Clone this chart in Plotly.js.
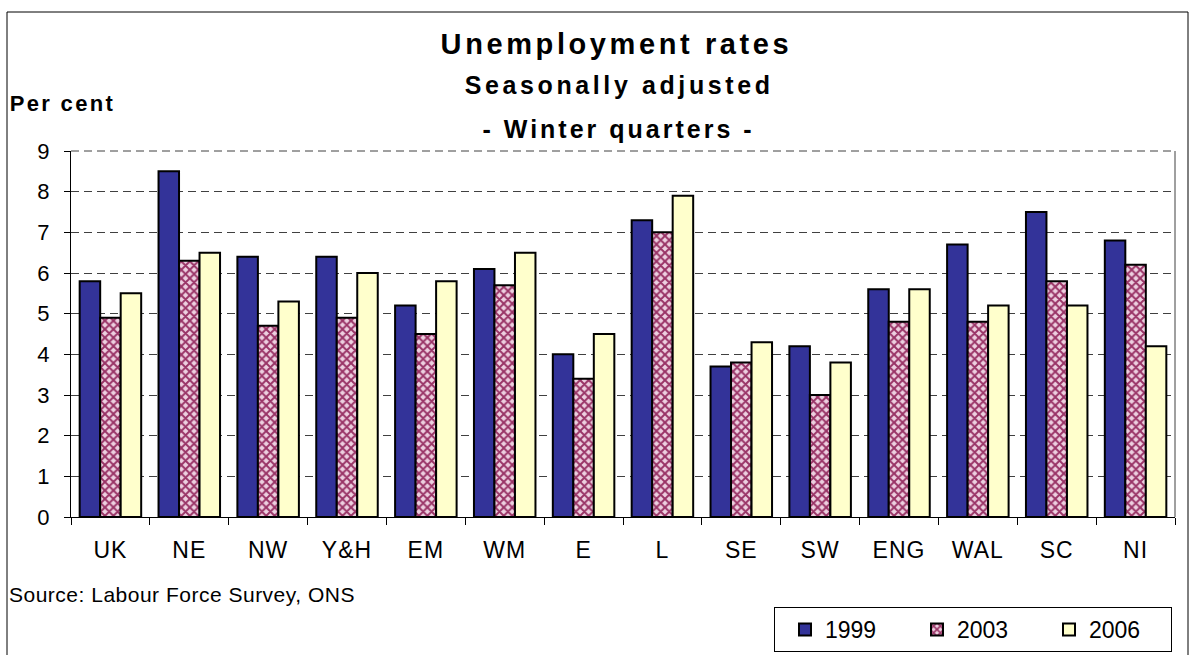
<!DOCTYPE html>
<html>
<head>
<meta charset="utf-8">
<script src="https://cdn.plot.ly/plotly-3.0.1.min.js"></script>
<style>
  html, body { margin: 0; padding: 0; background: #ffffff; }
  #chart { width: 1192px; height: 655px; }
</style>
</head>
<body>
<div id="chart"></div>
<script>
const regions = ["UK", "NE", "NW", "Y&H", "EM", "WM", "E", "L", "SE", "SW", "ENG", "WAL", "SC", "NI"];
const rate1999 = [5.8, 8.5, 6.4, 6.4, 5.2, 6.1, 4.0, 7.3, 3.7, 4.2, 5.6, 6.7, 7.5, 6.8];
const rate2003 = [4.9, 6.3, 4.7, 4.9, 4.5, 5.7, 3.4, 7.0, 3.8, 3.0, 4.8, 4.8, 5.8, 6.2];
const rate2006 = [5.5, 6.5, 5.3, 6.0, 5.8, 6.5, 4.5, 7.9, 4.3, 3.8, 5.6, 5.2, 5.2, 4.2];
const yTicks = [0, 1, 2, 3, 4, 5, 6, 7, 8, 9];

const font = "Liberation Sans, Arial, sans-serif";
const outline = { color: "#000000", width: 2 };

// plot area in pixels: left 71, right 1175, top 151, bottom 517
const L = 71, R = 1175, T = 151, B = 517;
const px = v => (v - L) / (R - L);
const py = v => (B - v) / (B - T);

const traces = [
  { type: "bar", name: "1999", x: regions, y: rate1999,
    marker: { color: "#333399", line: outline } },
  { type: "bar", name: "2003", x: regions, y: rate2003,
    marker: { color: "#C77FA6", line: outline,
      pattern: { shape: "x", fgcolor: "#993366", bgcolor: "#EDD0E0", size: 6, solidity: 0.55 } } },
  { type: "bar", name: "2006", x: regions, y: rate2006,
    marker: { color: "#FFFFCC", line: outline } }
];

const layout = {
  width: 1192, height: 655,
  margin: { l: L, r: 1192 - R, t: T, b: 655 - B, autoexpand: false },
  paper_bgcolor: "#ffffff", plot_bgcolor: "#ffffff",
  font: { family: font, color: "#000000", size: 22 },
  barmode: "group", bargap: 0.22, bargroupgap: 0,
  showlegend: true,
  legend: {
    orientation: "h", x: px(774), y: py(607), xanchor: "left", yanchor: "top",
    bordercolor: "#000000", borderwidth: 1, bgcolor: "#ffffff",
    font: { family: font, size: 23 }, entrywidth: 77, itemwidth: 30,
    indentation: 10, traceorder: "normal"
  },
  xaxis: {
    type: "category", tickson: "boundaries", ticks: "outside", ticklen: 7,
    tickcolor: "#000000", showline: true, linecolor: "#000000", linewidth: 1,
    tickfont: { family: font, size: 23 }, showgrid: false,
    ticklabelstandoff: 12, fixedrange: true
  },
  yaxis: {
    range: [0, 9], tickvals: yTicks, ticks: "outside", ticklen: 6,
    tickcolor: "#000000", showline: true, linecolor: "#000000", linewidth: 1,
    showgrid: true, gridcolor: "#404040", griddash: "8px,5px", gridwidth: 1,
    tickfont: { family: font, size: 22 }, zeroline: false,
    ticklabelstandoff: 10, fixedrange: true
  },
  shapes: [
    { type: "rect", xref: "paper", yref: "paper", x0: px(7), x1: px(1188), y0: py(670), y1: py(12),
      line: { color: "#000000", width: 1 }, fillcolor: "rgba(0,0,0,0)", layer: "below" },
    { type: "line", xref: "paper", yref: "paper", x0: 1, x1: 1, y0: 0, y1: 1,
      line: { color: "#404040", width: 1 } },
    { type: "line", xref: "paper", yref: "paper", x0: 0, x1: 1, y0: 1, y1: 1,
      line: { color: "#404040", width: 1, dash: "8px,5px" } }
  ],
  annotations: [
    { text: "<b>Unemployment rates</b>", xref: "paper", yref: "paper", x: px(616), y: py(44),
      xanchor: "center", yanchor: "middle", showarrow: false, font: { family: font, size: 29 } },
    { text: "<b>Seasonally adjusted</b>", xref: "paper", yref: "paper", x: px(619), y: py(85),
      xanchor: "center", yanchor: "middle", showarrow: false, font: { family: font, size: 25 } },
    { text: "<b>- Winter quarters -</b>", xref: "paper", yref: "paper", x: px(618), y: py(129),
      xanchor: "center", yanchor: "middle", showarrow: false, font: { family: font, size: 25 } },
    { text: "<b>Per cent</b>", xref: "paper", yref: "paper", x: px(17), y: py(104),
      xanchor: "left", yanchor: "middle", showarrow: false, font: { family: font, size: 22 } },
    { text: "Source: Labour Force Survey, ONS", xref: "paper", yref: "paper", x: px(15), y: py(594),
      xanchor: "left", yanchor: "middle", showarrow: false, font: { family: font, size: 21 } }
  ]
};

const spacing = [3.6, 3.6, 3.0, 2.3, 0.5];

Plotly.newPlot("chart", traces, layout, { displayModeBar: false, staticPlot: true }).then(gd => {
  gd.querySelectorAll(".annotation-text").forEach((t, i) => {
    if (spacing[i] !== undefined) t.style.letterSpacing = spacing[i] + "px";
  });
  gd.querySelectorAll(".xtick text").forEach(t => { t.style.letterSpacing = "1px"; });
});
</script>
</body>
</html>
